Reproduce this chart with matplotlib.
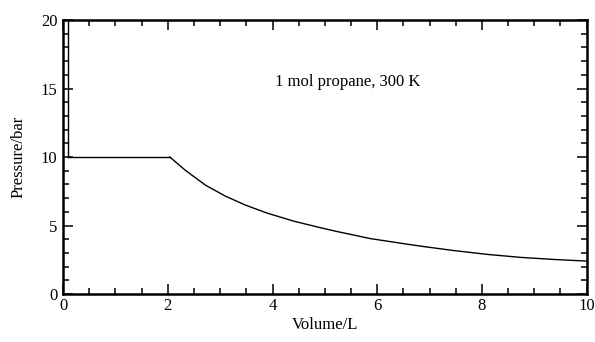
import numpy as np
import matplotlib
matplotlib.use("Agg")
import matplotlib.pyplot as plt
from matplotlib.ticker import MultipleLocator

'''Data'''
# liquid branch (vertical line) at the liquid molar volume
v_liq = [0.09, 0.09]
p_liq = [22, 10.0]

# two-phase plateau at vapour pressure
v_flat = [0.09, 2.04]
p_flat = [10.0, 10.0]

# gas branch
v_gas = [2.04, 2.33, 2.72, 3.10, 3.48, 3.89, 4.40, 4.91, 5.23, 5.87,
         6.51, 6.83, 7.46, 8.10, 8.74, 9.37, 10.0]
p_gas = [10.0, 9.05, 7.95, 7.15, 6.50, 5.92, 5.33, 4.85, 4.57, 4.05,
         3.68, 3.50, 3.18, 2.90, 2.68, 2.53, 2.41]

label_text = '1 mol propane, 300 K'

'''Plotting'''
plt.rcParams['font.family'] = ['Liberation Serif', 'DejaVu Serif']
plt.rcParams['font.size'] = 12

fig = plt.figure(figsize=(5.95, 3.42), dpi=100)
ax = fig.add_axes([0.106, 0.140, 0.880, 0.8015])

ax.plot(v_liq, p_liq, color='black', lw=1.0)
ax.plot(v_flat, p_flat, color='black', lw=1.0)
ax.plot(v_gas, p_gas, color='black', lw=1.0)

ax.set_xlim(0, 10)
ax.set_ylim(0, 20)
ax.xaxis.set_major_locator(MultipleLocator(2))
ax.xaxis.set_minor_locator(MultipleLocator(0.5))
ax.yaxis.set_major_locator(MultipleLocator(5))
ax.yaxis.set_minor_locator(MultipleLocator(1))
ax.tick_params(which='both', direction='in', top=True, right=True, width=1.1)
ax.tick_params(which='major', length=7)
ax.tick_params(which='minor', length=4)
ax.tick_params(axis='x', pad=3)
ax.tick_params(axis='y', pad=4)
for s in ax.spines.values():
    s.set_linewidth(1.8)

ax.set_xlabel('Volume/L', labelpad=2)
ax.set_ylabel('Pressure/bar', labelpad=10)
ax.text(5.43, 15.46, label_text, ha='center', va='center')

fig.savefig('out.png', dpi=100)
